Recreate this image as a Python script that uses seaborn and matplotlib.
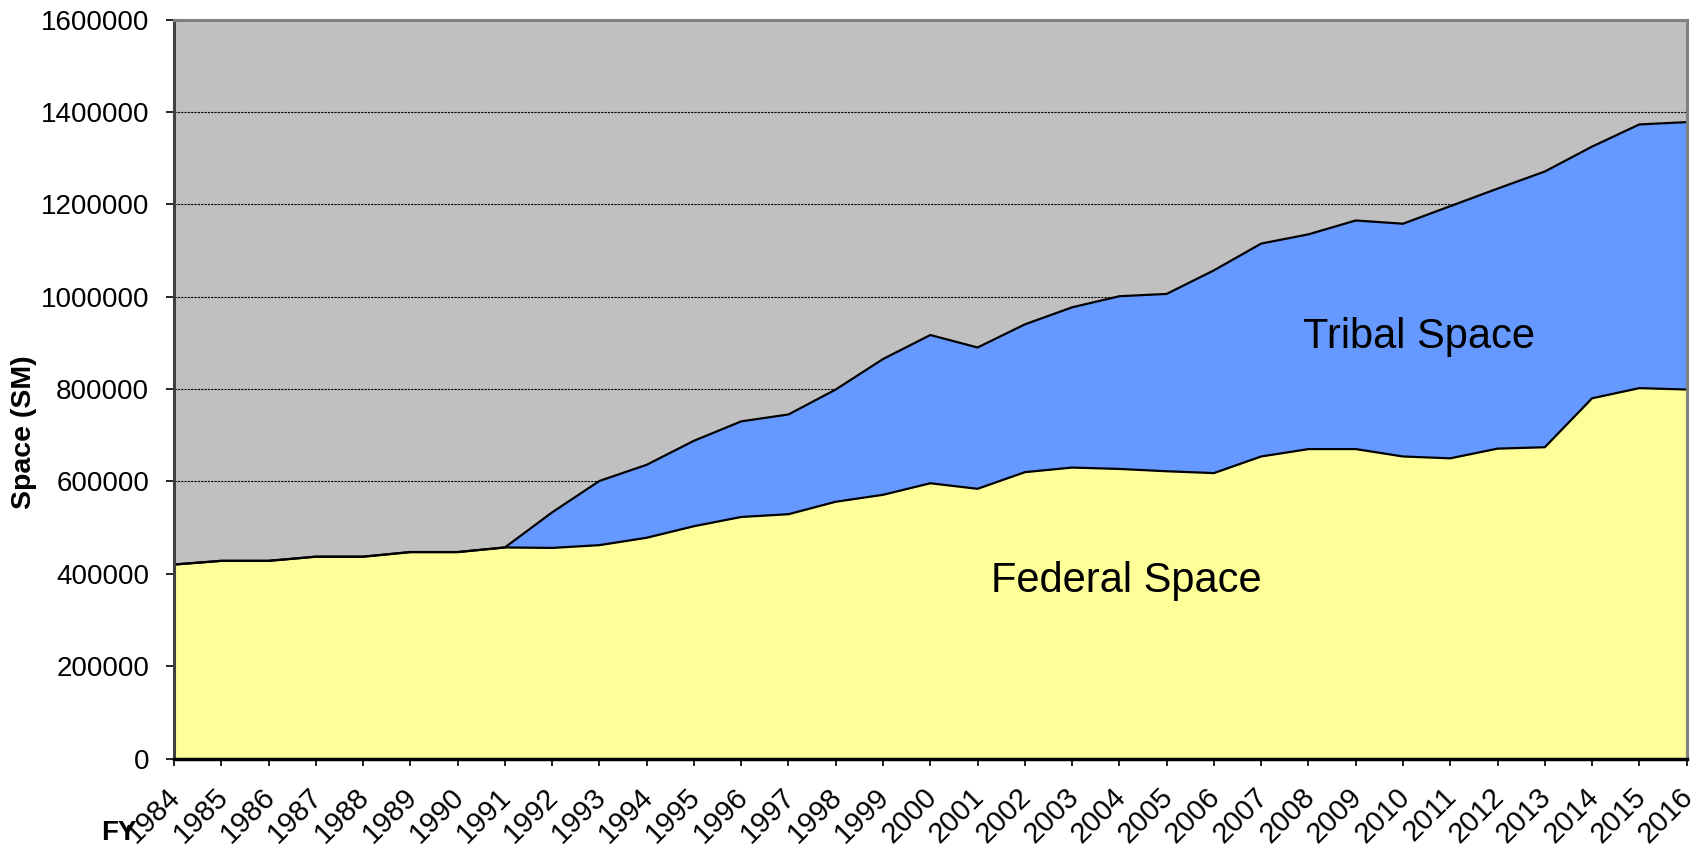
import numpy as np
import pandas as pd
import matplotlib
matplotlib.use("Agg")
import matplotlib.pyplot as plt
import seaborn as sns

years = list(range(1984, 2017))
federal_space = [420000, 428000, 428000, 437000, 437000, 447000, 447000, 457000,
                 456000, 462000, 478000, 503000, 523000, 529000, 556000, 571000,
                 596000, 584000, 620000, 630000, 627000, 622000, 618000, 654000,
                 670000, 670000, 654000, 650000, 671000, 674000, 780000, 802000,
                 799000]
tribal_space = [0, 0, 0, 0, 0, 0, 0, 0,
                77000, 139000, 158000, 185000, 207000, 216000, 243000, 294000,
                321000, 306000, 320000, 347000, 374000, 384000, 439000, 461000,
                465000, 495000, 504000, 546000, 563000, 597000, 545000, 571000,
                579000]
y_ticks = [0, 200000, 400000, 600000, 800000, 1000000, 1200000, 1400000, 1600000]

df = pd.DataFrame({"FY": years, "Federal": federal_space, "Tribal": tribal_space})
df["Total"] = df["Federal"] + df["Tribal"]

sns.set_theme(style="white")
plt.rcParams["font.family"] = ["Liberation Sans", "DejaVu Sans"]
plt.rcParams["text.color"] = "black"
plt.rcParams["xtick.color"] = "black"
plt.rcParams["ytick.color"] = "black"
plt.rcParams["xtick.labelcolor"] = "black"
plt.rcParams["ytick.labelcolor"] = "black"

fig = plt.figure(figsize=(17.04, 8.47), dpi=100)
ax = fig.add_axes([174 / 1704, 1 - 758.5 / 847, (1686.6 - 174) / 1704, (758.5 - 19.6) / 847])
ax.set_facecolor("#C0C0C0")

ax.fill_between(df["FY"], 0, df["Federal"], color="#FFFF99", zorder=2, linewidth=0)
ax.fill_between(df["FY"], df["Federal"], df["Total"], color="#6699FF", zorder=2, linewidth=0)
sns.lineplot(data=df, x="FY", y="Federal", ax=ax, color="black", linewidth=1.6, zorder=3)
sns.lineplot(data=df, x="FY", y="Total", ax=ax, color="black", linewidth=1.6, zorder=3)
ax.vlines(df["FY"].iloc[-1], 0, df["Total"].iloc[-1], color="black", linewidth=2.2, zorder=3)

ax.set_xlim(1984, 2016)
ax.set_ylim(0, 1600000)
ax.set_yticks(y_ticks)
ax.set_yticklabels([str(v) for v in y_ticks])
ax.set_xticks(years)
ax.set_xticklabels([str(y) for y in years], rotation=45, ha="right", va="center_baseline",
                   rotation_mode="anchor")
ax.set_xlabel("")
ax.set_ylabel("")

ax.set_axisbelow(True)
ax.yaxis.grid(True, linestyle=(0, (2, 1)), color="black", linewidth=0.8, zorder=1)
ax.xaxis.grid(False)

ax.tick_params(axis="y", which="major", length=5.5, width=1.2, color="black",
               labelsize=20, pad=12.5, left=True, direction="out", labelcolor="black")
ax.tick_params(axis="x", which="major", length=5.0, width=1.2, color="black",
               labelsize=21, pad=18, bottom=True, direction="out", labelcolor="black")

for side in ["top", "right"]:
    ax.spines[side].set_color("#808080")
    ax.spines[side].set_linewidth(2.2)
ax.spines["left"].set_color("#404040")
ax.spines["left"].set_linewidth(2.2)
ax.spines["bottom"].set_color("black")
ax.spines["bottom"].set_linewidth(2.5)
for s in ax.spines.values():
    s.set_zorder(4)

ax.text(2010.34, 888000, "Tribal Space", ha="center", va="baseline", fontsize=30,
        color="black", zorder=5)
ax.text(2004.15, 360000, "Federal Space", ha="center", va="baseline", fontsize=30,
        color="black", zorder=5)

fig.text(24 / 1704, 1 - 432.5 / 847, "Space (SM)", rotation=90, ha="center", va="center",
         fontsize=20.5, fontweight="bold", color="black")
fig.text(101 / 1704, 1.5 / 847, "FY", ha="left", va="bottom", fontsize=20,
         fontweight="bold", color="black")

fig.savefig("out.png", dpi=100)
